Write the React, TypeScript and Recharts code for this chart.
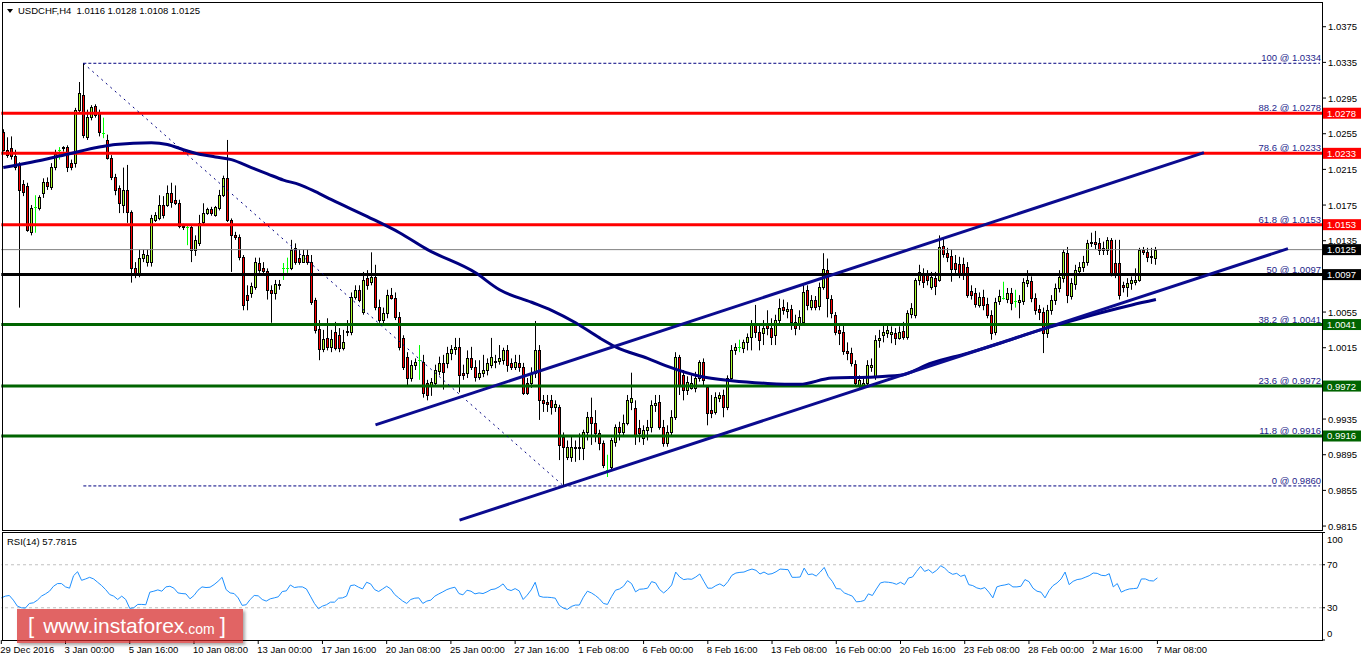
import React from 'react';
import { ComposedChart, Bar, Line, XAxis, YAxis, ReferenceLine } from 'recharts';

const FONT = "'Liberation Sans', Arial, sans-serif";

// USDCHF H4, 29 Dec 2016 .. 7 Mar 2017. Prices in 1/10000.
const opens = [
  10257, 10237, 10239, 10230, 10220, 10199, 10196, 10145, 10173, 10172,
  10189, 10201, 10195, 10218, 10237, 10240, 10240, 10222, 10222, 10282,
  10298, 10251, 10274, 10286, 10278, 10256, 10248, 10228, 10206, 10194,
  10175, 10192, 10167, 10104, 10099, 10116, 10111, 10111, 10158, 10160,
  10175, 10175, 10189, 10181, 10177, 10152, 10150, 10150, 10125, 10132,
  10156, 10166, 10171, 10164, 10172, 10186, 10205, 10158, 10141, 10139,
  10117, 10074, 10076, 10083, 10110, 10104, 10101, 10080, 10076, 10086,
  10104, 10104, 10104, 10127, 10116, 10111, 10119, 10111, 10069, 10036,
  10014, 10026, 10016, 10033, 10029, 10015, 10034, 10033, 10072, 10080,
  10055, 10093, 10089, 10094, 10061, 10046, 10054, 10074, 10071, 10049,
  10026, 10005, 9981, 9996, 10001, 9999, 9975, 9973, 9975, 9989,
  9998, 9998, 10009, 10014, 10016, 9987, 9987, 10003, 9993, 9982,
  9987, 9990, 9996, 9999, 10000, 10001, 10012, 9998, 9993, 9998,
  9993, 9975, 9975, 9987, 10012, 9956, 9954, 9956, 9948, 9948,
  9915, 9892, 9892, 9904, 9903, 9903, 9920, 9937, 9931, 9919,
  9908, 9878, 9881, 9909, 9926, 9920, 9931, 9954, 9947, 9925,
  9914, 9923, 9926, 9951, 9954, 9926, 9908, 9920, 9937, 10005,
  9984, 9968, 9970, 9970, 9981, 9999, 9971, 9945, 9943, 9959,
  9962, 9949, 9981, 10012, 10016, 10015, 10021, 10027, 10040, 10033,
  10031, 10043, 10037, 10029, 10046, 10061, 10056, 10058, 10044, 10043,
  10044, 10080, 10061, 10069, 10062, 10083, 10102, 10070, 10052, 10035,
  10033, 10011, 10009, 9997, 9973, 9973, 9975, 9993, 9982, 10024,
  10029, 10031, 10030, 10031, 10026, 10034, 10027, 10053, 10052, 10091,
  10099, 10097, 10083, 10093, 10091, 10129, 10121, 10118, 10110, 10109,
  10109, 10106, 10079, 10076, 10063, 10072, 10064, 10052, 10033, 10067,
  10071, 10070, 10076, 10067, 10066, 10067, 10088, 10090, 10071, 10058,
  10055, 10031, 10057, 10069, 10082, 10093, 10121, 10073, 10086, 10101,
  10106, 10111, 10132, 10134, 10132, 10127, 10125, 10136, 10110, 10110,
  10085, 10083, 10088, 10089, 10091, 10125, 10122, 10118, 10116,
];
const highs = [
  10260, 10251, 10252, 10237, 10223, 10203, 10200, 10175, 10186, 10186,
  10205, 10206, 10222, 10237, 10240, 10241, 10242, 10226, 10284, 10313,
  10334, 10282, 10287, 10288, 10282, 10273, 10254, 10231, 10210, 10197,
  10217, 10220, 10169, 10111, 10125, 10125, 10125, 10164, 10167, 10186,
  10185, 10197, 10200, 10197, 10181, 10154, 10152, 10153, 10141, 10164,
  10177, 10172, 10173, 10174, 10192, 10208, 10248, 10160, 10145, 10142,
  10119, 10085, 10088, 10116, 10116, 10111, 10104, 10085, 10091, 10091,
  10110, 10116, 10136, 10132, 10125, 10125, 10125, 10119, 10071, 10046,
  10035, 10048, 10035, 10044, 10037, 10035, 10046, 10077, 10085, 10085,
  10100, 10102, 10122, 10108, 10069, 10060, 10080, 10082, 10077, 10055,
  10029, 10010, 10001, 10003, 10018, 10007, 9979, 9981, 9996, 10005,
  10007, 10016, 10018, 10026, 10026, 9996, 10012, 10016, 10001, 10001,
  10007, 10003, 10026, 10007, 10018, 10015, 10018, 10003, 10007, 10007,
  9998, 9981, 9993, 10045, 10018, 9962, 9962, 9962, 9956, 9951,
  9920, 9911, 9917, 9911, 9919, 9923, 9943, 9959, 9945, 9923,
  9911, 9895, 9914, 9929, 9932, 9940, 9962, 9987, 9956, 9934,
  9928, 9934, 9956, 9962, 9962, 9934, 9928, 9945, 10010, 10007,
  9990, 9983, 9984, 9988, 10001, 10003, 9973, 9962, 9965, 9965,
  9968, 9984, 10018, 10020, 10024, 10024, 10031, 10046, 10063, 10040,
  10046, 10057, 10048, 10052, 10070, 10069, 10066, 10063, 10052, 10057,
  10085, 10085, 10074, 10073, 10088, 10121, 10115, 10074, 10055, 10040,
  10040, 10021, 10015, 10001, 9984, 9981, 10001, 10003, 10029, 10035,
  10040, 10040, 10039, 10037, 10039, 10044, 10057, 10065, 10093, 10108,
  10104, 10102, 10100, 10100, 10141, 10138, 10127, 10125, 10119, 10117,
  10116, 10111, 10085, 10082, 10077, 10080, 10071, 10057, 10071, 10080,
  10089, 10082, 10082, 10080, 10074, 10093, 10102, 10095, 10076, 10063,
  10060, 10063, 10074, 10087, 10102, 10125, 10128, 10093, 10108, 10111,
  10118, 10136, 10144, 10146, 10138, 10134, 10139, 10138, 10136, 10136,
  10089, 10093, 10095, 10104, 10127, 10128, 10127, 10127, 10128,
];
const lows = [
  10235, 10228, 10226, 10214, 10060, 10185, 10145, 10141, 10144, 10169,
  10183, 10192, 10192, 10214, 10226, 10235, 10212, 10214, 10217, 10279,
  10250, 10248, 10270, 10273, 10252, 10250, 10226, 10203, 10186, 10166,
  10166, 10155, 10088, 10093, 10094, 10111, 10106, 10106, 10156, 10158,
  10160, 10173, 10172, 10175, 10149, 10147, 10130, 10111, 10118, 10129,
  10153, 10164, 10163, 10162, 10169, 10184, 10156, 10100, 10136, 10113,
  10057, 10057, 10071, 10080, 10099, 10097, 10069, 10043, 10069, 10080,
  10091, 10099, 10102, 10108, 10108, 10110, 10108, 10063, 10031, 10001,
  10010, 10012, 10010, 10012, 10010, 10012, 10028, 10029, 10069, 10066,
  10052, 10080, 10085, 10057, 10043, 10040, 10048, 10069, 10046, 10012,
  9990, 9973, 9977, 9990, 9979, 9959, 9956, 9961, 9972, 9984,
  9968, 9992, 10001, 10007, 9965, 9979, 9981, 9990, 9977, 9979,
  9982, 9984, 9992, 9992, 9996, 9996, 9988, 9990, 9990, 9988,
  9962, 9962, 9970, 9981, 9934, 9943, 9943, 9940, 9943, 9889,
  9860, 9889, 9887, 9887, 9889, 9889, 9911, 9906, 9909, 9900,
  9880, 9870, 9878, 9904, 9911, 9917, 9928, 9945, 9906, 9909,
  9906, 9911, 9920, 9943, 9923, 9904, 9904, 9917, 9934, 9962,
  9956, 9962, 9968, 9965, 9977, 9973, 9928, 9936, 9940, 9954,
  9937, 9945, 9979, 10007, 10010, 10009, 10012, 10012, 10026, 10012,
  10018, 10029, 10018, 10018, 10040, 10052, 10048, 10035, 10029, 10035,
  10040, 10057, 10057, 10057, 10057, 10080, 10049, 10048, 10029, 10018,
  10007, 10001, 9994, 9971, 9970, 9970, 9970, 9988, 9979, 10015,
  10021, 10026, 10020, 10018, 10024, 10024, 10024, 10048, 10048, 10085,
  10082, 10085, 10080, 10074, 10089, 10116, 10111, 10089, 10097, 10093,
  10091, 10071, 10069, 10060, 10060, 10057, 10048, 10024, 10029, 10063,
  10069, 10065, 10057, 10060, 10048, 10063, 10083, 10066, 10052, 10046,
  10009, 10026, 10052, 10063, 10077, 10088, 10065, 10069, 10080, 10097,
  10100, 10107, 10128, 10125, 10119, 10119, 10119, 10095, 10093, 10069,
  10077, 10072, 10080, 10085, 10089, 10119, 10111, 10109, 10108,
];
const closes = [
  10237, 10231, 10230, 10218, 10192, 10190, 10147, 10172, 10173, 10184,
  10201, 10196, 10218, 10232, 10237, 10239, 10218, 10218, 10282, 10301,
  10254, 10274, 10285, 10276, 10257, 10256, 10228, 10206, 10192, 10177,
  10192, 10167, 10104, 10099, 10116, 10120, 10119, 10160, 10164, 10175,
  10164, 10189, 10178, 10177, 10152, 10150, 10150, 10125, 10136, 10155,
  10166, 10171, 10166, 10173, 10186, 10205, 10158, 10141, 10139, 10117,
  10063, 10069, 10084, 10111, 10102, 10101, 10080, 10076, 10086, 10085,
  10104, 10104, 10125, 10111, 10111, 10119, 10111, 10066, 10035, 10014,
  10025, 10016, 10025, 10015, 10015, 10021, 10033, 10072, 10080, 10069,
  10091, 10085, 10094, 10061, 10046, 10054, 10074, 10071, 10049, 10016,
  9993, 9981, 9996, 9999, 10001, 9964, 9962, 9977, 9990, 9998,
  9988, 10009, 10014, 10016, 9984, 9984, 10003, 9993, 9982, 9987,
  9990, 9998, 10005, 10000, 10003, 10012, 9996, 9993, 9999, 9993,
  9964, 9964, 9987, 10012, 9956, 9953, 9952, 9948, 9952, 9906,
  9904, 9904, 9904, 9903, 9904, 9920, 9937, 9931, 9919, 9908,
  9883, 9878, 9911, 9926, 9920, 9931, 9956, 9959, 9917, 9919,
  9923, 9926, 9951, 9953, 9926, 9908, 9920, 9937, 10005, 9973,
  9968, 9977, 9975, 9981, 9999, 9979, 9942, 9942, 9960, 9962,
  9949, 9981, 10012, 10016, 10016, 10021, 10027, 10040, 10033, 10024,
  10037, 10037, 10027, 10046, 10060, 10057, 10058, 10044, 10037, 10049,
  10078, 10063, 10069, 10061, 10083, 10103, 10071, 10054, 10033, 10031,
  10011, 10009, 9998, 9975, 9979, 9975, 9996, 9996, 10024, 10026,
  10033, 10035, 10033, 10026, 10033, 10027, 10054, 10060, 10091, 10100,
  10089, 10091, 10094, 10084, 10128, 10120, 10117, 10103, 10103, 10099,
  10099, 10074, 10074, 10064, 10072, 10063, 10052, 10031, 10066, 10073,
  10071, 10076, 10065, 10067, 10069, 10089, 10091, 10071, 10057, 10055,
  10031, 10057, 10069, 10082, 10094, 10122, 10074, 10088, 10102, 10106,
  10111, 10132, 10134, 10131, 10125, 10125, 10136, 10099, 10099, 10074,
  10083, 10088, 10091, 10091, 10125, 10122, 10117, 10117, 10125,
];

// RSI(14), one value per bar
const rsi14 = [
  39.2, 40.8, 41.4, 37.1, 31.5, 30, 29.7, 34, 34.6, 37.1,
  40.8, 42.9, 45.4, 50, 52.5, 52.5, 49.4, 48.2, 59.8, 63.5,
  55.5, 56.8, 58.3, 56.8, 53.7, 50.6, 46.9, 42.3, 40.8, 37.7,
  40.8, 37.7, 29.4, 30, 33.1, 33.1, 32.8, 44.5, 45.4, 46.6,
  45.4, 49.4, 50, 48.2, 43.8, 43.2, 42.9, 38.3, 41.4, 46.3,
  49.4, 48.8, 49.1, 51.5, 54.6, 58.3, 46.9, 43.8, 43.2, 39.2,
  32.2, 32.8, 37.7, 41.4, 41.1, 37.7, 36.2, 38.3, 39.2, 40.2,
  45.1, 45.7, 51.2, 48.8, 49.4, 49.4, 47.5, 40.8, 34, 29.1,
  31.5, 32.8, 35.2, 35.2, 38.9, 39.2, 40.8, 50.6, 51.2, 49.1,
  47.5, 53.7, 52.2, 46.9, 45.1, 47.5, 50, 47.5, 42.3, 39.2,
  36.2, 34, 37.7, 38.9, 39.2, 34, 36.2, 37.1, 40.8, 42.9,
  44.8, 46.9, 48.2, 49.1, 43.2, 42, 46.3, 45.4, 42.9, 43.8,
  43.2, 44.8, 46.9, 47.5, 49.4, 52.2, 47.2, 46, 47.8, 45.7,
  37.7, 41.7, 46.6, 53.7, 40.8, 39.8, 39.8, 39.5, 38.9, 32.2,
  29.7, 28.5, 31.2, 32.5, 32.5, 39.8, 45.4, 43.8, 41.4, 38.3,
  34, 33.1, 40.2, 46.3, 47.5, 50, 55.2, 52.5, 44.8, 47.2,
  47.5, 48.2, 54.3, 53.1, 46.9, 43.8, 46.9, 51.2, 63.2, 58.6,
  56.2, 56.8, 56.5, 58.6, 61.4, 54.6, 48.2, 48.2, 50.6, 52.2,
  50, 54.3, 60.2, 62.3, 62.9, 63.2, 64.8, 66, 64.8, 61.4,
  63.2, 61.1, 61.7, 63.5, 66, 65.7, 65.4, 58.3, 58.3, 58.6,
  66.9, 60.8, 61.4, 59.5, 63.2, 67.5, 59.2, 54.6, 47.8, 47.5,
  43.8, 42.3, 40.8, 35.5, 35.8, 36.8, 42.9, 41.4, 47.5, 53.1,
  54, 53.7, 53.1, 51.8, 53.7, 51.5, 57.7, 58.6, 63.8, 68.5,
  63.8, 65.4, 62.3, 64.8, 69.1, 66.9, 63.2, 61.1, 62, 59.2,
  60.5, 51.5, 50.6, 48.5, 47.5, 48.8, 44.5, 39.2, 49.4, 50.6,
  51.2, 52.2, 49.4, 49.4, 50, 56.2, 54.3, 48.2, 45.4, 44.5,
  39.2, 46, 50.6, 53.1, 56.8, 63.2, 51.5, 54.6, 56.2, 56.8,
  58.3, 59.8, 62.3, 62, 60.2, 59.8, 61.7, 49.4, 52.5, 44.5,
  46.3, 47.5, 47.8, 48.2, 56.8, 56.8, 55.2, 54.9, 57.78,
];

// moving average, read at these bars
const maBars = [0, 7, 16, 24, 28, 37, 41, 45, 49, 53, 57, 62, 66, 70, 74, 78, 82, 91, 99, 106,
  118, 124, 132, 137, 143, 149, 153, 161, 166, 174, 182, 191, 199, 207, 216, 224, 232, 241, 249, 257,
  266, 274, 282, 288];
const maValues = [10217, 10223, 10232, 10240, 10243, 10245, 10243, 10237, 10232, 10229, 10226, 10217,
  10210, 10203, 10198, 10190, 10181, 10162, 10144, 10125, 10099, 10080, 10066, 10057, 10043, 10026,
  10016, 10003, 9994, 9983, 9978, 9975, 9974, 9981, 9982, 9984, 9998, 10009, 10020, 10032, 10044,
  10054, 10063, 10069];

const timeLabels = ['29 Dec 2016', '3 Jan 00:00', '5 Jan 16:00', '10 Jan 08:00', '13 Jan 00:00',
  '17 Jan 16:00', '20 Jan 08:00', '25 Jan 00:00', '27 Jan 16:00', '1 Feb 08:00', '6 Feb 00:00',
  '8 Feb 16:00', '13 Feb 08:00', '16 Feb 00:00', '20 Feb 16:00', '23 Feb 08:00', '28 Feb 00:00',
  '2 Mar 16:00', '7 Mar 08:00'];
const labelBars = [0, 16, 32, 48, 64, 80, 96, 112, 128, 144, 160, 176, 192, 208, 224, 240, 256, 272, 288];

const priceTicks = [1.0375, 1.0335, 1.0295, 1.0255, 1.0215, 1.0175, 1.0135, 1.0055, 1.0015,
  0.9935, 0.9895, 0.9855, 0.9815];
const rsiTicks = [0, 30, 70, 100];

const fibNames = ['100', '88.2', '78.6', '61.8', '50', '38.2', '23.6', '11.8', '0'];
const fibPrices = [1.0334, 1.0278, 1.0233, 1.0153, 1.0097, 1.0041, 0.9972, 0.9916, 0.986];
const fibHighBar = 20;
const fibLowBar = 140;
const bidPrice = 1.0125;

const upperChannel = [{ x: 93, y: 0.99284 }, { x: 300, y: 1.02338 }];
const lowerChannel = [{ x: 114, y: 0.98216 }, { x: 321, y: 1.01262 }];

const SLOTS = 330;
const LAST = SLOTS - 1;

const rows = Array.from({ length: SLOTS }, (_, i) => {
  const k = maBars.indexOf(i);
  return {
    i,
    o: i < opens.length ? opens[i] / 1e4 : null,
    h: i < highs.length ? highs[i] / 1e4 : null,
    l: i < lows.length ? lows[i] / 1e4 : null,
    c: i < closes.length ? closes[i] / 1e4 : null,
    ma: k >= 0 ? maValues[k] / 1e4 : null,
    rsi: i < rsi14.length ? rsi14[i] : null,
  };
});

const Candle = (props: any) => {
  const { x, y, width, height, payload } = props;
  if (!payload || payload.o == null || height == null) return null;
  const { o, h, l, c } = payload;
  const top = Math.min(y, y + height);
  const k = h > l ? Math.abs(height) / (h - l) : 0;
  const py = (v: number) => top + (h - v) * k;
  const cx = Math.floor(x + width / 2) + 0.5;
  if (o === c) {
    const yo = Math.round(py(o)) + 0.5;
    return (
      <g>
        <line x1={cx} x2={cx} y1={py(h)} y2={py(l)} stroke="#00ff00" />
        <line x1={cx - 1.5} x2={cx + 1.5} y1={yo} y2={yo} stroke="#00ff00" />
      </g>
    );
  }
  const yt = Math.round(py(Math.max(o, c))) + 0.5;
  const yb = Math.round(py(Math.min(o, c))) + 0.5;
  return (
    <g>
      <line x1={cx} x2={cx} y1={py(h)} y2={py(l)} stroke="#000" />
      <rect x={cx - 1} y={yt} width={2} height={Math.max(yb - yt, 1)}
        fill={c > o ? '#adff2f' : '#ff0000'} stroke="#000" />
    </g>
  );
};

const levelLook = (name: string) => {
  if (name === '100' || name === '0') return { stroke: 'none', width: 0, box: null as string | null };
  if (name === '88.2' || name === '78.6' || name === '61.8') return { stroke: '#ff0000', width: 3, box: '#ff0000' };
  if (name === '50') return { stroke: '#000000', width: 3, box: '#000000' };
  return { stroke: '#006400', width: 3, box: '#006400' };
};

const levelLabel = (text: string | null, price: number, box: string | null) => (props: any) => {
  const vb = props.viewBox || {};
  const right = (vb.x || 0) + (vb.width || 0);
  const y = vb.y || 0;
  return (
    <g>
      {text && (
        <text x={right - 1} y={y - 2} textAnchor="end" fill="#1e1e8a" fontSize={9.5} fontFamily={FONT}>
          {text}
        </text>
      )}
      {box && <rect x={right + 1} y={y - 5.5} width={38} height={11} fill={box} />}
      {box && (
        <text x={right + 5} y={y + 3.5} fill="#ffffff" fontSize={9.5} fontFamily={FONT}>
          {price.toFixed(4)}
        </text>
      )}
    </g>
  );
};

const PriceTick = (props: any) => {
  const { x, y, payload } = props;
  return (
    <text x={x} y={y} dy={3.5} fill="#000" fontSize={9.5} fontFamily={FONT} textAnchor="start">
      {Number(payload.value).toFixed(4)}
    </text>
  );
};

const RsiTick = (props: any) => {
  const { x, y, payload } = props;
  const v = payload.value;
  const dy = v === 100 ? 10 : v === 0 ? -3.5 : 3.5;
  return (
    <text x={x} y={y} dy={dy} fill="#000" fontSize={9.5} fontFamily={FONT} textAnchor="start">
      {v}
    </text>
  );
};

const TimeTick = (props: any) => {
  const { x, y, payload } = props;
  const k = labelBars.indexOf(Number(payload.value));
  return (
    <text x={x - 1} y={y} dy={6.5} fill="#000" fontSize={9.5} fontFamily={FONT} textAnchor="start">
      {k >= 0 ? timeLabels[k] : ''}
    </text>
  );
};

export default function App() {
  return (
    <div style={{ position: 'absolute', left: 0, top: 0, width: 1362, height: 661, background: '#fff', overflow: 'hidden', fontFamily: FONT }}>
      <div style={{ position: 'absolute', left: 0, top: 0 }}>
        <ComposedChart width={1362} height={532} data={rows} margin={{ top: 3, right: 0, bottom: 3, left: 1.3 }} barCategoryGap={0}>
          <XAxis dataKey="i" hide />
          <YAxis orientation="right" domain={[0.98117, 1.04016]} allowDataOverflow ticks={priceTicks} interval={0}
            width={40} axisLine={false} tickSize={4} tickLine={{ stroke: '#000' }} tick={<PriceTick />} />
          <Bar dataKey={(d: any) => (d.o == null ? null : [d.l, d.h])} shape={Candle} isAnimationActive={false} />
          <ReferenceLine y={bidPrice} stroke="#808080" strokeWidth={1} label={levelLabel(null, bidPrice, '#000000')} />
          {fibNames.map((name, k) => {
            const look = levelLook(name);
            return (
              <ReferenceLine key={name} y={fibPrices[k]} stroke={look.stroke} strokeWidth={look.width}
                label={levelLabel(`${name} @ ${fibPrices[k].toFixed(4)}`, fibPrices[k], look.box)} />
            );
          })}
          <ReferenceLine segment={[{ x: fibHighBar, y: fibPrices[0] }, { x: LAST, y: fibPrices[0] }]}
            stroke="#000080" strokeDasharray="3 2" />
          <ReferenceLine segment={[{ x: fibHighBar, y: fibPrices[8] }, { x: LAST, y: fibPrices[8] }]}
            stroke="#000080" strokeDasharray="3 2" />
          <ReferenceLine segment={[{ x: fibHighBar, y: fibPrices[0] }, { x: fibLowBar, y: fibPrices[8] }]}
            stroke="#000080" strokeDasharray="2 4" />
          <Line dataKey="ma" type="monotone" connectNulls dot={false} stroke="#000080" strokeWidth={3} isAnimationActive={false} />
          <ReferenceLine segment={upperChannel} stroke="#0b0b8f" strokeWidth={3} />
          <ReferenceLine segment={lowerChannel} stroke="#0b0b8f" strokeWidth={3} />
        </ComposedChart>
      </div>

      <div style={{ position: 'absolute', left: 0, top: 532 }}>
        <ComposedChart width={1362} height={129} data={rows} margin={{ top: 0.5, right: 0, bottom: 0, left: 1.3 }}>
          <XAxis dataKey="i" ticks={labelBars} interval={0} height={21} axisLine={false} tickSize={4}
            tickLine={{ stroke: '#000' }} tick={<TimeTick />} />
          <YAxis orientation="right" domain={[0, 100]} ticks={rsiTicks} interval={0} width={40} axisLine={false}
            tickSize={3} tickLine={{ stroke: '#000' }} tick={<RsiTick />} />
          <ReferenceLine y={70} stroke="#c0c0c0" strokeDasharray="3 3" />
          <ReferenceLine y={30} stroke="#c0c0c0" strokeDasharray="3 3" />
          <Line dataKey="rsi" type="linear" dot={false} stroke="#1e90ff" strokeWidth={1} isAnimationActive={false} />
        </ComposedChart>
      </div>

      {/* panel frames */}
      <div style={{ position: 'absolute', left: 2, top: 2, width: 1321, height: 529, border: '1px solid #000', boxSizing: 'border-box', pointerEvents: 'none' }} />
      <div style={{ position: 'absolute', left: 2, top: 532, width: 1321, height: 109, border: '1px solid #000', boxSizing: 'border-box', pointerEvents: 'none' }} />

      {/* symbol header */}
      <div style={{ position: 'absolute', left: 7, top: 9, width: 0, height: 0, borderLeft: '3px solid transparent', borderRight: '3px solid transparent', borderTop: '4px solid #000' }} />
      <div style={{ position: 'absolute', left: 18, top: 4, fontSize: 9.5, lineHeight: '14px', color: '#000', whiteSpace: 'pre' }}>
        {'USDCHF,H4  1.0116 1.0128 1.0108 1.0125'}
      </div>
      <div style={{ position: 'absolute', left: 7, top: 535, fontSize: 9.5, lineHeight: '14px', color: '#000', whiteSpace: 'pre' }}>
        {'RSI(14) 57.7815'}
      </div>

      {/* watermark */}
      <div style={{ position: 'absolute', left: 17, top: 609, width: 226, height: 34, background: 'rgba(214,40,40,0.72)', boxShadow: '2px 2px 3px rgba(0,0,0,0.35)', color: '#fff', display: 'flex', alignItems: 'center', whiteSpace: 'pre' }}>
        <span style={{ fontSize: 22, marginLeft: 11 }}>[</span>
        <span style={{ fontSize: 21, marginLeft: 9 }}>www.instaforex</span>
        <span style={{ fontSize: 14, marginTop: 5 }}>.com</span>
        <span style={{ fontSize: 22, marginLeft: 5 }}>]</span>
      </div>
    </div>
  );
}
